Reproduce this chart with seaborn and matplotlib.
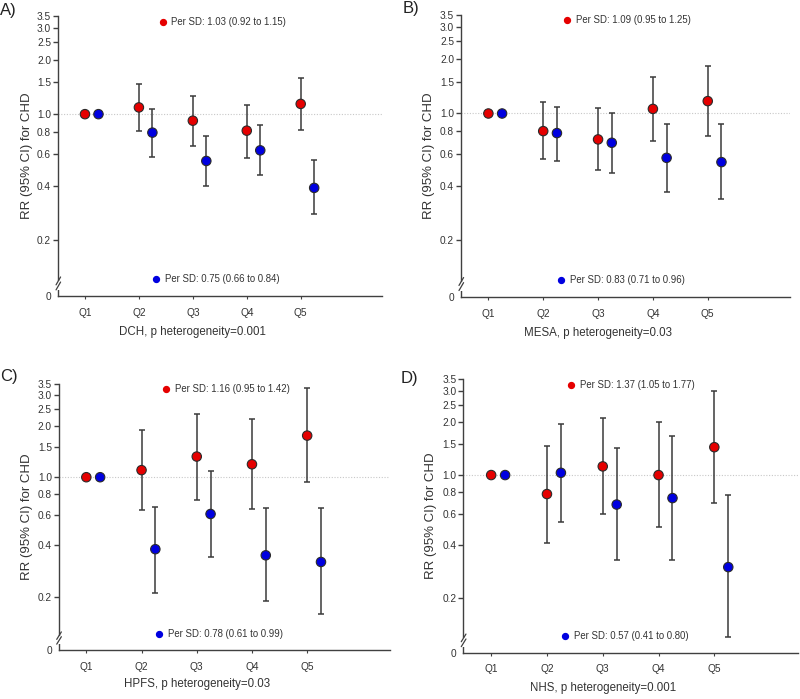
import numpy as np
import pandas as pd
import matplotlib
matplotlib.use("Agg")
import matplotlib.pyplot as plt
import seaborn as sns

# ---------------- data ----------------
quintiles = ["Q1", "Q2", "Q3", "Q4", "Q5"]
panel_letters = ["A)", "B)", "C)", "D)"]
cohort_labels = ["DCH, p heterogeneity=0.001", "MESA, p heterogeneity=0.03",
                 "HPFS, p heterogeneity=0.03", "NHS, p heterogeneity=0.001"]
red_per_sd = ["Per SD: 1.03 (0.92 to 1.15)", "Per SD: 1.09 (0.95 to 1.25)",
              "Per SD: 1.16 (0.95 to 1.42)", "Per SD: 1.37 (1.05 to 1.77)"]
blue_per_sd = ["Per SD: 0.75 (0.66 to 0.84)", "Per SD: 0.83 (0.71 to 0.96)",
               "Per SD: 0.78 (0.61 to 0.99)", "Per SD: 0.57 (0.41 to 0.80)"]

nan = np.nan
# DCH
dch_red_rr = [1.00, 1.09, 0.92, 0.81, 1.14]
dch_red_lo = [nan, 0.81, 0.67, 0.57, 0.82]
dch_red_hi = [nan, 1.47, 1.26, 1.13, 1.59]
dch_blue_rr = [1.00, 0.79, 0.55, 0.63, 0.39]
dch_blue_lo = [nan, 0.58, 0.40, 0.46, 0.28]
dch_blue_hi = [nan, 1.07, 0.76, 0.87, 0.56]
# MESA
mesa_red_rr = [1.00, 0.80, 0.72, 1.06, 1.17]
mesa_red_lo = [nan, 0.56, 0.49, 0.71, 0.75]
mesa_red_hi = [nan, 1.15, 1.07, 1.59, 1.82]
mesa_blue_rr = [1.00, 0.78, 0.69, 0.57, 0.54]
mesa_blue_lo = [nan, 0.55, 0.47, 0.37, 0.34]
mesa_blue_hi = [nan, 1.09, 1.00, 0.87, 0.87]
# HPFS
hpfs_red_rr = [1.00, 1.10, 1.32, 1.19, 1.75]
hpfs_red_lo = [nan, 0.64, 0.74, 0.65, 0.94]
hpfs_red_hi = [nan, 1.88, 2.33, 2.18, 3.31]
hpfs_blue_rr = [1.00, 0.38, 0.61, 0.35, 0.32]
hpfs_blue_lo = [nan, 0.21, 0.34, 0.19, 0.16]
hpfs_blue_hi = [nan, 0.67, 1.09, 0.66, 0.66]
# NHS
nhs_red_rr = [1.00, 0.78, 1.12, 1.00, 1.44]
nhs_red_lo = [nan, 0.41, 0.60, 0.51, 0.69]
nhs_red_hi = [nan, 1.46, 2.12, 2.00, 3.02]
nhs_blue_rr = [1.00, 1.03, 0.68, 0.74, 0.30]
nhs_blue_lo = [nan, 0.54, 0.33, 0.33, 0.12]
nhs_blue_hi = [nan, 1.96, 1.43, 1.66, 0.77]

yticks_vals = [0.2, 0.4, 0.6, 0.8, 1.0, 1.5, 2.0, 2.5, 3.0, 3.5]

panels = [
    (dch_red_rr, dch_red_lo, dch_red_hi, dch_blue_rr, dch_blue_lo, dch_blue_hi),
    (mesa_red_rr, mesa_red_lo, mesa_red_hi, mesa_blue_rr, mesa_blue_lo, mesa_blue_hi),
    (hpfs_red_rr, hpfs_red_lo, hpfs_red_hi, hpfs_blue_rr, hpfs_blue_lo, hpfs_blue_hi),
    (nhs_red_rr, nhs_red_lo, nhs_red_hi, nhs_blue_rr, nhs_blue_lo, nhs_blue_hi),
]

# ---------------- style ----------------
sns.set_style("white")
plt.rcParams['font.family'] = ['Liberation Sans', 'DejaVu Sans']

RED = "#e50000"
BLUE = "#0000e0"
AX_COL = "#404040"
TXT = "#333333"

fig = plt.figure(figsize=(8.0, 6.99), dpi=100)

# axes rectangles [left, bottom, width, height] in figure fraction
rects = [
    [0.0725, 0.5765, 0.4045, 0.4005],
    [0.5762, 0.5755, 0.4113, 0.4035],
    [0.0734, 0.0701, 0.4141, 0.3805],
    [0.5791, 0.0663, 0.4184, 0.3911],
]
letter_pos = [(0.0, 0.985), (0.503, 0.988), (0.0, 0.462), (0.501, 0.459)]

for i, (rect, data) in enumerate(zip(rects, panels)):
    rr_r, lo_r, hi_r, rr_b, lo_b, hi_b = data
    ax = fig.add_axes(rect)
    n = len(quintiles)
    pos = np.arange(n)
    df = pd.DataFrame({
        "x": np.concatenate([pos, pos + 0.25]),
        "rr": rr_r + rr_b,
        "lo": lo_r + lo_b,
        "hi": hi_r + hi_b,
        "group": ["red"] * n + ["blue"] * n,
    })
    ax.set_yscale("log")
    ax.set_ylim(0.098, 3.5)
    ax.set_xlim(-0.5, 5.5)

    # reference line at 1.0
    ax.axhline(1.0, color="#c8c8c8", lw=0.8, ls=(0, (1, 1.5)), zorder=0)

    # error bars
    ax.errorbar(df["x"], df["rr"],
                yerr=[df["rr"] - df["lo"], df["hi"] - df["rr"]],
                fmt="none", ecolor="#3a3a3a", elinewidth=1.1,
                capsize=2.3, capthick=1.1, zorder=2)

    sns.scatterplot(data=df, x="x", y="rr", hue="group",
                    palette={"red": RED, "blue": BLUE},
                    s=46, edgecolor="#2a2a2a", linewidth=0.8,
                    legend=False, zorder=3, ax=ax)

    # axes styling
    for sp in ["top", "right"]:
        ax.spines[sp].set_visible(False)
    for sp in ["left", "bottom"]:
        ax.spines[sp].set_color(AX_COL)
        ax.spines[sp].set_linewidth(1.0)
    ax.set_xticks(pos)
    ax.set_xticklabels(quintiles)
    ax.minorticks_off()
    ax.set_yticks(yticks_vals + [0.098])
    ax.set_yticklabels([f"{v:.1f}" for v in yticks_vals] + ["0"])
    ax.tick_params(axis="y", which="major", direction="out", length=3.5,
                   width=1.0, color=AX_COL, labelsize=7.3, labelcolor=TXT, pad=1.5, left=True)
    ax.tick_params(axis="x", which="major", direction="out", length=2,
                   width=0.8, color=AX_COL, labelsize=7.3, labelcolor=TXT, pad=6.5, bottom=True)
    # hide tick mark of the "0" tick
    ax.yaxis.get_major_ticks()[-1].tick1line.set_visible(False)

    ax.set_ylabel("RR (95% CI) for CHD", fontsize=9.5, color=TXT)
    ax.yaxis.set_label_coords(-0.097, 0.5)
    ax.yaxis.label.set_va("center")
    ax.set_xlabel(cohort_labels[i], fontsize=8.3, color=TXT)
    ax.xaxis.set_label_coords(2.5 / 6.0, -0.128)
    ax.xaxis.label.set_va("center")

    # axis break marks on y spine
    ax.plot([0, 0], [0.022, 0.052], transform=ax.transAxes, color="white",
            lw=3, clip_on=False, zorder=5, solid_capstyle="butt")
    for yb in (0.022, 0.040):
        ax.plot([-0.006, 0.008], [yb, yb + 0.028], transform=ax.transAxes,
                color=AX_COL, lw=0.9, clip_on=False, zorder=6)

    # per-SD annotations
    ax.scatter([0.323], [0.98], transform=ax.transAxes, s=18, color=RED,
               clip_on=False, zorder=4)
    ax.text(0.35, 0.98, red_per_sd[i], transform=ax.transAxes, fontsize=6.9,
            va="center", ha="left", color=TXT)
    ax.scatter([0.303], [0.06], transform=ax.transAxes, s=18, color=BLUE,
               clip_on=False, zorder=4)
    ax.text(0.331, 0.06, blue_per_sd[i], transform=ax.transAxes, fontsize=6.9,
            va="center", ha="left", color=TXT)

    fig.text(letter_pos[i][0], letter_pos[i][1], panel_letters[i],
             fontsize=12, va="center", ha="left", color="#222222")

fig.savefig("out.png", dpi=100)
